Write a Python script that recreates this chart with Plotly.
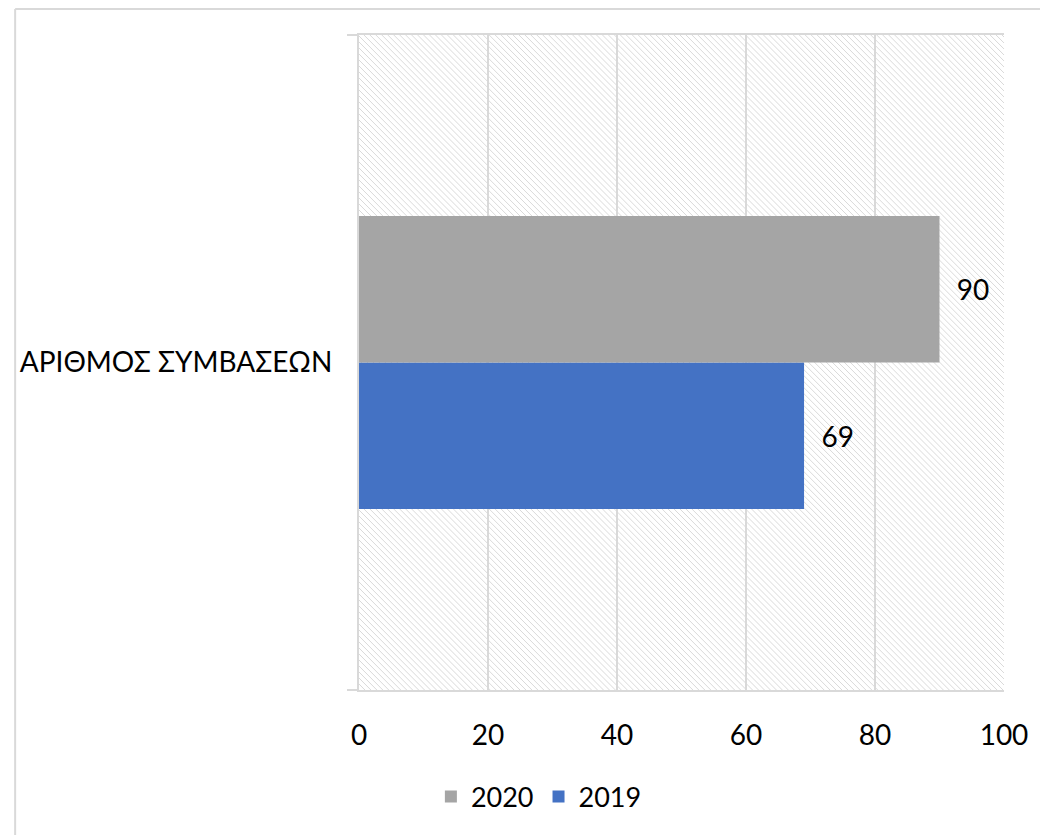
import plotly.graph_objects as go

# data
categories = ["ΑΡΙΘΜΟΣ ΣΥΜΒΑΣΕΩΝ"]
values_2019 = [69]
values_2020 = [90]
x_ticks = [0, 20, 40, 60, 80, 100]

# the page body has an 8px margin, so figure coords = page coords - 8
OFF = 8
W_PX, H_PX = 1048 - OFF, 835 - OFF
L, R, T, B = 355 - OFF, 1004 - OFF, 35 - OFF, 690 - OFF  # plot area in figure pixels
PW, PH = R - L, B - T

FONT = "Lato"
FS = 28
GRID = "#d9d9d9"


def px_to_paper(x, y):
    return (x - L) / PW, 1 - (y - T) / PH


# diagonal hatch over the plot area (Excel "light downward diagonal")
step = 6
path = []
c = -PH
while c < PW:
    if c >= 0:
        x0, y0 = c, 0
    else:
        x0, y0 = 0, -c
    y1 = min(PH, PW - c)
    x1 = y1 + c
    a = px_to_paper(L + x0, T + y0)
    b = px_to_paper(L + x1, T + y1)
    path.append(f"M{a[0]:.5f},{a[1]:.5f}L{b[0]:.5f},{b[1]:.5f}")
    c += step

fig = go.Figure()

fig.add_trace(go.Bar(
    y=categories, x=values_2019, orientation="h", name="2019",
    marker=dict(color="#4472c4", line=dict(width=0)),
    text=values_2019, texttemplate="  %{x}", textposition="outside",
    textfont=dict(size=FS, color="black", family=FONT), cliponaxis=False,
))
fig.add_trace(go.Bar(
    y=categories, x=values_2020, orientation="h", name="2020",
    marker=dict(color="#a5a5a5", line=dict(width=0)),
    text=values_2020, texttemplate="  %{x}", textposition="outside",
    textfont=dict(size=FS, color="black", family=FONT), cliponaxis=False,
))

# outer chart border (left and top visible)
bx0, by0 = px_to_paper(1, 1)
bx1, by1 = px_to_paper(W_PX + 5, H_PX + 5)

fig.update_layout(
    width=W_PX, height=H_PX,
    margin=dict(l=L, r=W_PX - R, t=T, b=H_PX - B),
    paper_bgcolor="white", plot_bgcolor="rgba(0,0,0,0)",
    barmode="group", bargap=0.553, bargroupgap=0,
    font=dict(family=FONT, size=FS, color="black"),
    showlegend=True,
    legend=dict(orientation="h", x=(536 - OFF - L) / PW, xanchor="center",
                y=1 - (797 - OFF - T) / PH, yanchor="middle", traceorder="reversed",
                font=dict(size=FS - 1), itemwidth=30),
    shapes=[
        dict(type="path", path="".join(path), xref="paper", yref="paper",
             line=dict(color="#dadada", width=1), layer="below"),
        dict(type="line", xref="paper", yref="paper", x0=bx0, y0=by0, x1=bx0, y1=by1,
             line=dict(color=GRID, width=2), layer="below"),
        dict(type="line", xref="paper", yref="paper", x0=bx0, y0=by0, x1=bx1, y1=by0,
             line=dict(color=GRID, width=2), layer="below"),
    ],
)

fig.update_xaxes(range=[0, 100], tickvals=x_ticks, showgrid=True, gridcolor=GRID, gridwidth=2,
                 zeroline=False, showline=True, linecolor=GRID, linewidth=2, mirror=True,
                 ticks="", ticklabelstandoff=19, tickfont=dict(size=FS))
fig.update_yaxes(tickson="boundaries", ticks="outside", ticklen=10, tickcolor=GRID, tickwidth=2,
                 showgrid=True, gridcolor=GRID, gridwidth=2, showline=True, linecolor=GRID,
                 linewidth=2, ticklabelstandoff=19, tickfont=dict(size=FS))

fig.write_html("out.html")
